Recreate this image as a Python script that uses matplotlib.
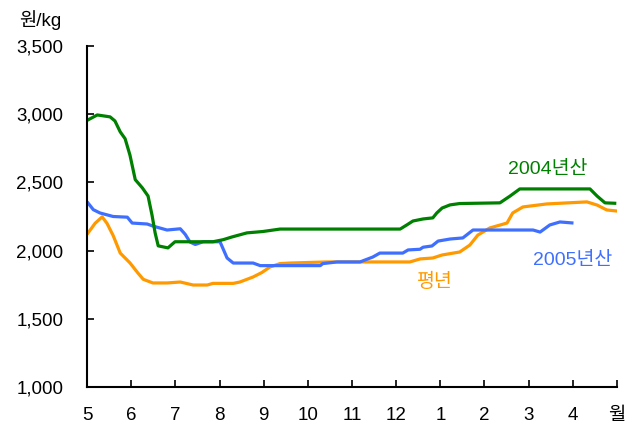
import matplotlib.pyplot as plt

plt.rcParams['font.family'] = ['Liberation Sans', 'Noto Sans CJK KR', 'DejaVu Sans']

# 월 (5월 = 0 ... 다음해 5월 = 12)
month_labels = ['5', '6', '7', '8', '9', '10', '11', '12', '1', '2', '3', '4', '월']

# 2004년산
x_2004 = [0.02, 0.23, 0.52, 0.63, 0.75, 0.86, 0.97, 1.09, 1.25, 1.38, 1.47, 1.54, 1.61, 1.83, 1.99,
          2.85, 3.08, 3.28, 3.62, 3.98, 4.37, 7.09, 7.24, 7.38, 7.61, 7.83, 7.92, 8.04, 8.22, 8.44,
          9.35, 9.58, 9.80, 11.39, 11.55, 11.73, 11.95]
y_2004 = [2958, 2994, 2980, 2950, 2870, 2820, 2700, 2520, 2460, 2400, 2260, 2130, 2035, 2020, 2065,
          2065, 2080, 2100, 2130, 2140, 2158, 2158, 2188, 2217, 2232, 2240, 2276, 2312, 2335, 2345,
          2350, 2400, 2452, 2452, 2400, 2350, 2347]

# 2005년산
x_2005 = [0.02, 0.14, 0.29, 0.59, 0.91, 1.02, 1.36, 1.49, 1.81, 2.11, 2.22, 2.33, 2.45, 2.63, 3.01,
          3.17, 3.31, 3.76, 3.92, 5.28, 5.34, 5.66, 6.18, 6.47, 6.63, 7.15, 7.27, 7.54, 7.61, 7.81,
          7.95, 8.22, 8.51, 8.74, 10.10, 10.26, 10.48, 10.71, 10.98]
y_2005 = [2349, 2300, 2276, 2250, 2245, 2202, 2195, 2180, 2151, 2160, 2120, 2063, 2045, 2065, 2065,
          1946, 1909, 1909, 1890, 1890, 1905, 1917, 1917, 1953, 1982, 1982, 2005, 2010, 2025, 2034,
          2070, 2085, 2093, 2151, 2151, 2136, 2188, 2210, 2203]

# 평년
x_avg = [0.02, 0.18, 0.34, 0.45, 0.59, 0.75, 0.97, 1.15, 1.27, 1.49, 1.81, 2.11, 2.40, 2.72, 2.85,
         3.31, 3.46, 3.76, 3.96, 4.14, 4.37, 4.60, 5.43, 7.31, 7.54, 7.83, 8.04, 8.44, 8.67, 8.85,
         9.12, 9.51, 9.64, 9.87, 10.41, 11.32, 11.55, 11.77, 12.0]
y_avg = [2129, 2200, 2247, 2200, 2110, 1982, 1910, 1836, 1790, 1763, 1763, 1770, 1748, 1748, 1760,
         1760, 1770, 1807, 1840, 1880, 1905, 1909, 1917, 1917, 1939, 1946, 1968, 1990, 2041, 2114,
         2166, 2202, 2276, 2320, 2342, 2357, 2334, 2298, 2290]

green = '#008000'
blue = '#3f6fff'
orange = '#ff9900'

fig = plt.figure(figsize=(6.36, 4.33), dpi=100)
ax = fig.add_axes([0.137, 0.106, 0.833, 0.788])

ax.plot(x_avg, y_avg, color=orange, lw=2.3)
ax.plot(x_2005, y_2005, color=blue, lw=2.3)
ax.plot(x_2004, y_2004, color=green, lw=2.3)

ax.set_xlim(0, 12)
ax.set_ylim(1000, 3500)
ax.set_xticks(range(13))
ax.set_xticklabels(month_labels)
ax.set_yticks(range(1000, 3501, 500))
ax.set_yticklabels(['{:,}'.format(v) for v in range(1000, 3501, 500)])

ax.spines['top'].set_visible(False)
ax.spines['right'].set_visible(False)
ax.spines['left'].set_linewidth(1.5)
ax.spines['bottom'].set_linewidth(1.5)
ax.tick_params(direction='in', length=5, width=1.2, labelsize=13.5, colors='black')
ax.tick_params(axis='y', pad=17)
ax.tick_params(axis='x', pad=14)

# 라벨
ax.text(10.44, 2598, '2004년산', color=green, fontsize=14, ha='center', va='center')
ax.text(11.0, 1931, '2005년산', color=blue, fontsize=14, ha='center', va='center')
ax.text(7.88, 1770, '평년', color=orange, fontsize=14, ha='center', va='center')
fig.text(0.063, 0.954, '원/kg', fontsize=13.5, ha='center', va='center')

fig.savefig('out.png')
